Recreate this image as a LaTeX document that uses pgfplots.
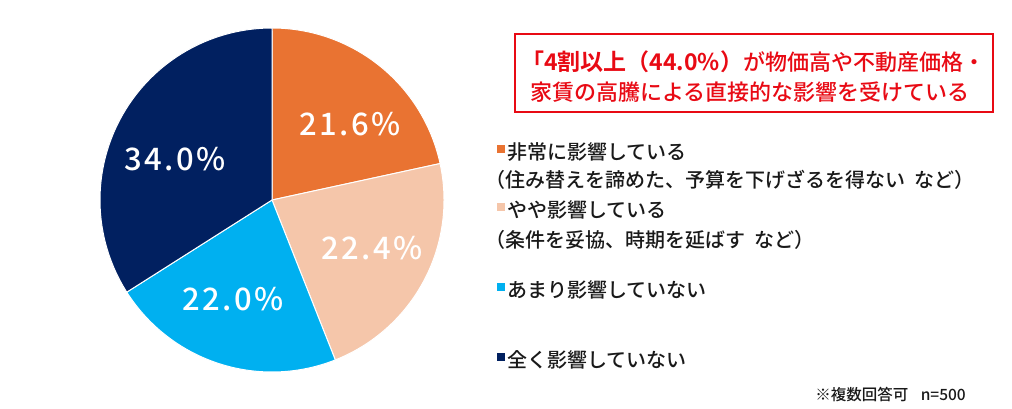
\documentclass[border=0pt]{standalone}
\usepackage{pgfplots}
\pgfplotsset{compat=1.18}
\usepackage{fontspec}
\setmainfont{Noto Sans CJK JP Medium}[BoldFont={Noto Sans CJK JP Bold}]
\newfontfamily\pctfont[LetterSpace=8]{Noto Sans CJK JP Medium}
\definecolor{cOrange}{RGB}{233,115,50}
\definecolor{cPeach}{RGB}{245,198,170}
\definecolor{cCyan}{RGB}{0,176,240}
\definecolor{cNavy}{RGB}{1,32,96}
\definecolor{cRed}{RGB}{232,10,20}
\definecolor{cText}{RGB}{25,25,25}
\begin{document}
\begin{tikzpicture}[x=1bp,y=1bp]
\useasboundingbox (0,0) rectangle (1012,408);
\begin{axis}[at={(272bp,208bp)}, anchor=center, scale only axis,
  width=344bp, height=344bp, xmin=-1, xmax=1, ymin=-1, ymax=1, hide axis, clip=false]
% shares: 21.6, 22.4, 22.0, 34.0 (percent) -> angles clockwise from 12 o'clock
\addplot[fill=cOrange, draw=white, line width=1pt, domain=0:77.76, samples=80] ({sin(x)},{cos(x)}) -- (axis cs:0,0) -- cycle;
\addplot[fill=cPeach, draw=white, line width=1pt, domain=77.76:158.4, samples=80] ({sin(x)},{cos(x)}) -- (axis cs:0,0) -- cycle;
\addplot[fill=cCyan, draw=white, line width=1pt, domain=158.4:237.6, samples=80] ({sin(x)},{cos(x)}) -- (axis cs:0,0) -- cycle;
\addplot[fill=cNavy, draw=white, line width=1pt, domain=237.6:360, samples=120] ({sin(x)},{cos(x)}) -- (axis cs:0,0) -- cycle;
\node[white, font=\pctfont\fontsize{31bp}{34bp}\selectfont] at (axis cs:0.455,0.44) {21.6\%};
\node[white, font=\pctfont\fontsize{31bp}{34bp}\selectfont] at (axis cs:0.58,-0.28) {22.4\%};
\node[white, font=\pctfont\fontsize{31bp}{34bp}\selectfont] at (axis cs:-0.225,-0.575) {22.0\%};
\node[white, font=\pctfont\fontsize{31bp}{34bp}\selectfont] at (axis cs:-0.565,0.24) {34.0\%};
\end{axis}
% highlight box
\draw[cRed, line width=2.5bp] (515,296) rectangle (993,374);
\node[anchor=west, inner sep=0, text=cRed, font=\fontsize{22bp}{25bp}\selectfont] at (521,346)
  {{\bfseries\fontsize{23bp}{26bp}\selectfont 「4割以上（44.0\%）}が物価高や不動産価格・};
\node[anchor=west, inner sep=0, text=cRed, font=\fontsize{22bp}{25bp}\selectfont] at (530,316)
  {家賃の高騰による直接的な影響を受けている};
% legend
\fill[cOrange] (497,255) rectangle (505,263);
\node[anchor=west, inner sep=0, text=cText, font=\fontsize{20bp}{23bp}\selectfont] at (507,256) {非常に影響している};
\node[anchor=west, inner sep=0, text=cText, font=\fontsize{20bp}{23bp}\selectfont] at (485,228) {（住み替えを諦めた、予算を下げざるを得ない\hspace{0.45em}など）};
\fill[cPeach] (497,197) rectangle (505,205);
\node[anchor=west, inner sep=0, text=cText, font=\fontsize{20bp}{23bp}\selectfont] at (507,198) {やや影響している};
\node[anchor=west, inner sep=0, text=cText, font=\fontsize{20bp}{23bp}\selectfont] at (485,168) {（条件を妥協、時期を延ばす\hspace{0.45em}など）};
\fill[cCyan] (497,117) rectangle (505,125);
\node[anchor=west, inner sep=0, text=cText, font=\fontsize{20bp}{23bp}\selectfont] at (507,118) {あまり影響していない};
\fill[cNavy] (497,47) rectangle (505,55);
\node[anchor=west, inner sep=0, text=cText, font=\fontsize{20bp}{23bp}\selectfont] at (507,48) {全く影響していない};
\node[anchor=east, inner sep=0, text=cText, font=\fontsize{15.5bp}{18bp}\selectfont] at (966,13) {※複数回答可\hspace{0.8em}n=500};
\end{tikzpicture}
\end{document}
